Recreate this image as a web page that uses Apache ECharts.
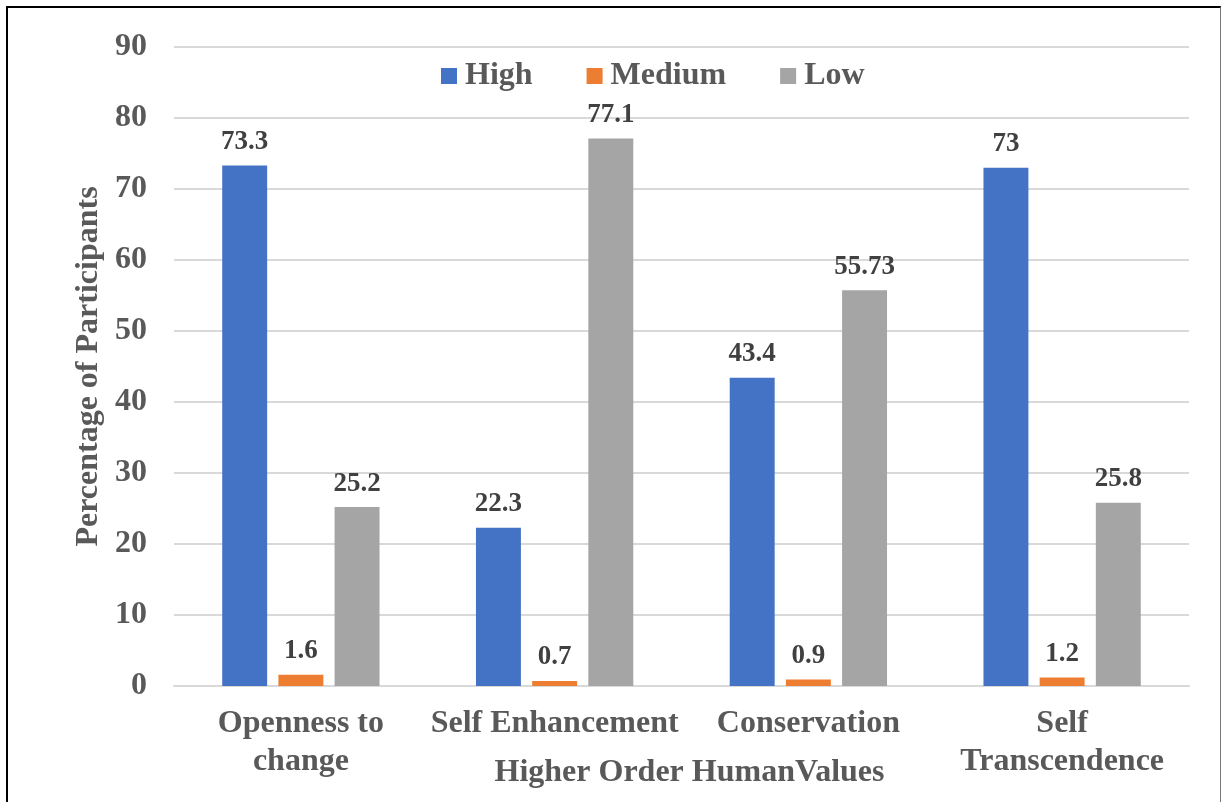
<!DOCTYPE html>
<html>
<head>
<meta charset="utf-8">
<script src="https://cdn.jsdelivr.net/npm/echarts@6/dist/echarts.min.js"></script>
<style>
  html, body { margin: 0; padding: 0; background: #fff; }
  #frame {
    position: absolute; left: 6px; top: 6px; width: 1215px; height: 800px;
    border-left: 2px solid #000; border-top: 2px solid #000; border-right: 1px solid #777;
    box-sizing: border-box;
  }
  #chart { position: absolute; left: 0; top: 0; width: 1225px; height: 802px; }
</style>
</head>
<body>
<div id="frame"></div>
<div id="chart"></div>
<script>
(function(){
  // Higher order human values, percentage of participants
  const categories = ["Openness to\nchange", "Self Enhancement", "Conservation", "Self\nTranscendence"];
  const high = [73.3, 22.3, 43.4, 73];
  const medium = [1.6, 0.7, 0.9, 1.2];
  const low = [25.2, 77.1, 55.73, 25.8];
  const seriesNames = ["High", "Medium", "Low"];
  const colors = ["#4472C4", "#ED7D31", "#A5A5A5"];

  const font = "'Liberation Serif', 'Times New Roman', serif";
  const chart = echarts.init(document.getElementById("chart"));

  const label = {
    show: true, position: "top", distance: 10,
    fontFamily: font, fontWeight: "bold", fontSize: 27, color: "#404040"
  };

  const option = {
    animation: false,
    color: colors,
    legend: {
      top: 55, left: 436,
      itemWidth: 16, itemHeight: 16, itemGap: 54,
      icon: "rect",
      textStyle: { fontFamily: font, fontWeight: "bold", fontSize: 32, color: "#595959", padding: [0, 0, 0, 3] },
      data: seriesNames
    },
    grid: { left: 174, right: 36, top: 47, bottom: 116, outerBoundsMode: "none" },
    xAxis: {
      type: "category", data: categories,
      name: "Higher Order HumanValues", nameLocation: "middle", nameGap: 71, nameMoveOverlap: false,
      nameTextStyle: { fontFamily: font, fontWeight: "bold", fontSize: 32, color: "#595959", padding: [0, 0, 0, 16] },
      axisLine: { lineStyle: { color: "#d9d9d9", width: 2 } },
      axisTick: { show: false },
      axisLabel: { fontFamily: font, fontWeight: "bold", fontSize: 32, color: "#595959", margin: 19, lineHeight: 38, interval: 0 }
    },
    yAxis: {
      type: "value", min: 0, max: 90, interval: 10,
      name: "Percentage of Participants", nameLocation: "middle", nameGap: 69, nameMoveOverlap: false,
      nameTextStyle: { fontFamily: font, fontWeight: "bold", fontSize: 32, color: "#595959" },
      axisLine: { show: false }, axisTick: { show: false },
      splitLine: { lineStyle: { color: "#d9d9d9", width: 2 } },
      axisLabel: { fontFamily: font, fontWeight: "bold", fontSize: 32, color: "#595959", margin: 27 }
    },
    series: [
      { name: seriesNames[0], type: "bar", data: high, barGap: "25%", barCategoryGap: "38%", label: label },
      { name: seriesNames[1], type: "bar", data: medium, label: label },
      { name: seriesNames[2], type: "bar", data: low, label: label }
    ]
  };

  chart.setOption(option);
  window.addEventListener("resize", () => chart.resize());
})();
</script>
</body>
</html>
